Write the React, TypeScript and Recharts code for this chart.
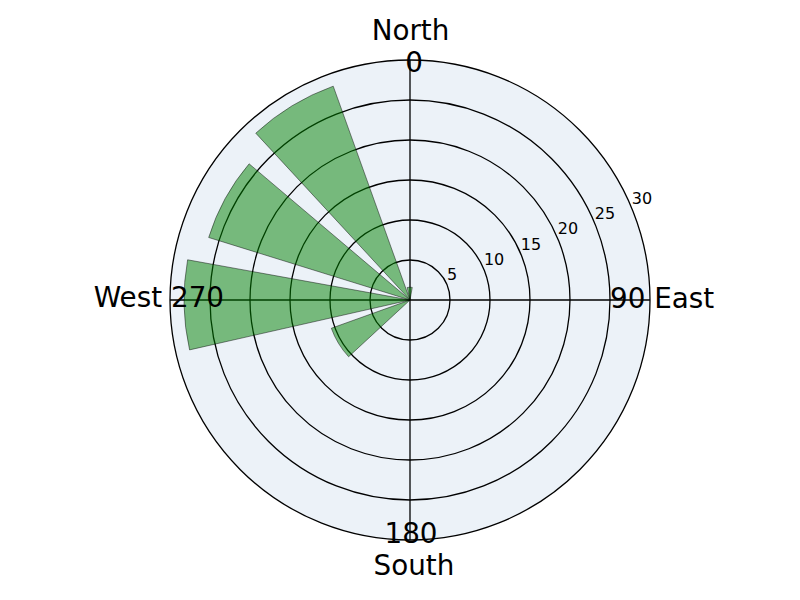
import React from "react";
import {
  RadialBarChart,
  RadialBar,
  PolarAngleAxis,
  PolarRadiusAxis,
  PolarGrid,
} from "recharts";

// wind directions (degrees, clockwise from north) and bar heights
const directions = [0, 30, 60, 90, 120, 150, 180, 210, 240, 270, 300, 330];
const frequencies = [1.6, 0, 0, 0, 0, 0, 0, 0, 10.45, 28.25, 26.35, 28.4];
const radiusTicks = [5, 10, 15, 20, 25, 30];

const CX = 410;
const CY = 300;
const R = 240;
const FONT = "DejaVu Sans, sans-serif";

const data = directions.map((d, i) => ({ dir: d, value: frequencies[i] }));

const renderAngleTick = (props: any) => {
  const v = Number(props.payload?.value);
  const style = { fontFamily: FONT, fontSize: 27.8, fill: "#000" };
  if (v === 0) {
    return (
      <g>
        <text x={CX + 0.5} y={39.5} textAnchor="middle" {...style}>North</text>
        <text x={CX + 4} y={71.5} textAnchor="middle" {...style}>0</text>
      </g>
    );
  }
  if (v === 90) {
    return (
      <text x={CX + 200} y={CY + 8} textAnchor="start" {...style}>90 East</text>
    );
  }
  if (v === 180) {
    return (
      <g>
        <text x={CX + 1} y={543} textAnchor="middle" {...style}>180</text>
        <text x={CX + 4} y={575} textAnchor="middle" {...style}>South</text>
      </g>
    );
  }
  if (v === 270) {
    return (
      <text x={CX - 186} y={CY + 7} textAnchor="end" {...style}>West 270</text>
    );
  }
  return <g />;
};

const renderRadiusTick = (props: any) => {
  const { x, y, payload } = props;
  return (
    <text x={x} y={y - 4.5} textAnchor="start" fontFamily={FONT} fontSize={16} fill="#000">
      {payload.value}
    </text>
  );
};

export default function App() {
  return (
    <div
      style={{
        position: "absolute",
        left: 0,
        top: 0,
        width: 800,
        height: 600,
        background: `radial-gradient(circle ${R}px at ${CX}px ${CY}px, #ecf2f8 0px, #ecf2f8 239px, rgba(236,242,248,0) 240px)`,
      }}
    >
      <RadialBarChart
        width={800}
        height={600}
        data={data}
        layout="centric"
        cx={CX}
        cy={CY}
        innerRadius={0}
        outerRadius={R}
        startAngle={76}
        endAngle={-284}
        barCategoryGap="12.5%"
        margin={{ top: 0, right: 0, bottom: 0, left: 0 }}
      >
        <PolarAngleAxis
          dataKey="dir"
          type="category"
          axisLine={false}
          tickLine={false}
          tick={renderAngleTick}
        />
        <PolarRadiusAxis
          type="number"
          domain={[0, 30]}
          ticks={radiusTicks}
          angle={22.5}
          axisLine={false}
          tickLine={false}
          tick={renderRadiusTick}
        />
        <RadialBar
          dataKey="value"
          fill="green"
          fillOpacity={0.5}
          stroke="#000"
          strokeOpacity={0.45}
          strokeWidth={1}
          isAnimationActive={false}
        />
        <PolarGrid
          gridType="circle"
          polarAngles={[90, 0, -90, 180]}
          stroke="#000"
          strokeOpacity={1}
          strokeWidth={1.3}
        />
      </RadialBarChart>
    </div>
  );
}
